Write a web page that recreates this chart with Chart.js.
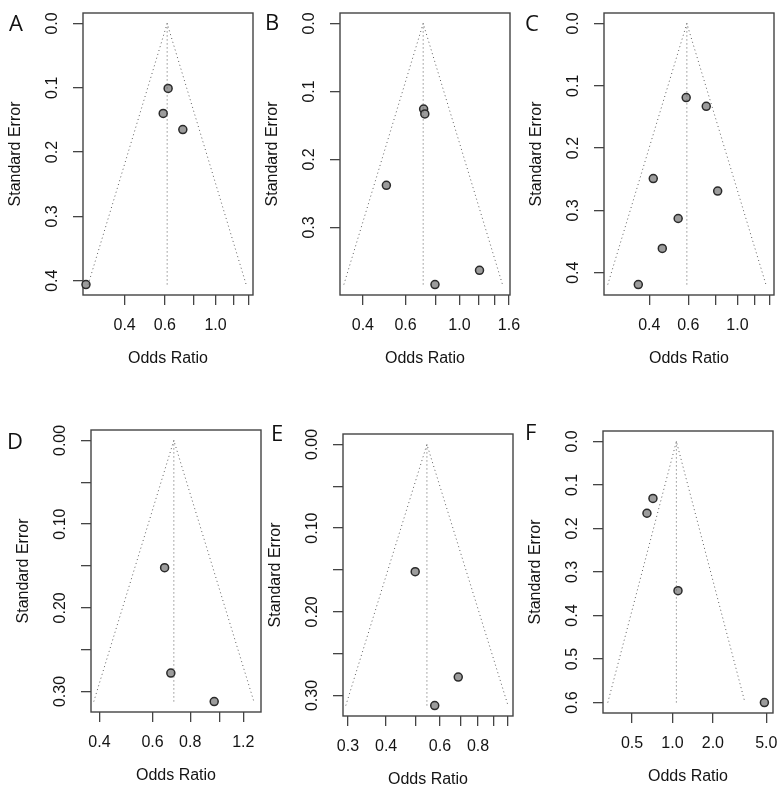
<!DOCTYPE html>
<html>
<head>
<meta charset="utf-8">
<script src="https://cdn.jsdelivr.net/npm/chart.js@4.4.0/dist/chart.umd.min.js"></script>
<style>
  body { margin: 0; background: #fff; }
  #wrap { position: relative; width: 784px; height: 796px; overflow: hidden; background: #fff; }
  .panel { position: absolute; }
  .letter { position: absolute; font-family: "Open Sans", sans-serif; font-size: 22px; line-height: 22px; color: #111; }
</style>
</head>
<body>
<div id="wrap"></div>
<script>
// study odds ratios and standard errors
const orA = [0.620, 0.590, 0.719, 0.271];
const seA = [0.101, 0.140, 0.165, 0.406];
const orB = [0.712, 0.720, 0.500, 1.21, 0.793];
const seB = [0.126, 0.133, 0.238, 0.363, 0.384];
const orC = [0.587, 0.723, 0.417, 0.814, 0.540, 0.458, 0.357];
const seC = [0.119, 0.133, 0.249, 0.269, 0.313, 0.361, 0.419];
const orD = [0.658, 0.690, 0.961];
const seD = [0.152, 0.278, 0.312];
const orE = [0.498, 0.689, 0.577];
const seE = [0.152, 0.278, 0.312];
const orF = [0.716, 0.646, 1.10, 4.84];
const seF = [0.131, 0.165, 0.343, 0.600];

// pooled estimate (funnel apex) per panel
const pooledOR = [0.614, 0.709, 0.591, 0.706, 0.544, 1.07];
const panelLetters = ['A', 'B', 'C', 'D', 'E', 'F'];

// x axis ranges (odds ratio) and ticks
const xRangeA = [0.263, 1.458];
const xRangeB = [0.322, 1.616];
const xRangeC = [0.250, 1.461];
const xRangeD = [0.375, 1.374];
const xRangeE = [0.289, 1.041];
const xRangeF = [0.304, 5.61];
const xTicksA = [0.4, 0.6, 0.8, 1.0, 1.2, 1.4];
const xLabelsA = ['0.4', '0.6', '1.0'];
const xTicksB = [0.4, 0.6, 0.8, 1.0, 1.2, 1.4, 1.6];
const xLabelsB = ['0.4', '0.6', '1.0', '1.6'];
const xTicksC = [0.4, 0.6, 0.8, 1.0, 1.2, 1.4];
const xLabelsC = ['0.4', '0.6', '1.0'];
const xTicksD = [0.4, 0.6, 0.8, 1.0, 1.2];
const xLabelsD = ['0.4', '0.6', '0.8', '1.2'];
const xTicksE = [0.3, 0.4, 0.5, 0.6, 0.7, 0.8, 0.9, 1.0];
const xLabelsE = ['0.3', '0.4', '0.6', '0.8'];
const xTicksF = [0.5, 1.0, 2.0, 5.0];
const xLabelsF = ['0.5', '1.0', '2.0', '5.0'];

// y axis ticks (standard error)
const yTicksA = [0, 0.1, 0.2, 0.3, 0.4];
const yLabelsA = ['0.0', '0.1', '0.2', '0.3', '0.4'];
const yTicksB = [0, 0.1, 0.2, 0.3];
const yLabelsB = ['0.0', '0.1', '0.2', '0.3'];
const yTicksC = [0, 0.1, 0.2, 0.3, 0.4];
const yLabelsC = ['0.0', '0.1', '0.2', '0.3', '0.4'];
const yTicksD = [0, 0.05, 0.10, 0.15, 0.20, 0.25, 0.30];
const yLabelsD = ['0.00', '0.10', '0.20', '0.30'];
const yTicksE = [0, 0.05, 0.10, 0.15, 0.20, 0.25, 0.30];
const yLabelsE = ['0.00', '0.10', '0.20', '0.30'];
const yTicksF = [0, 0.1, 0.2, 0.3, 0.4, 0.5, 0.6];
const yLabelsF = ['0.0', '0.1', '0.2', '0.3', '0.4', '0.5', '0.6'];

const panels = [
  { or: orA, se: seA, xRange: xRangeA, xTicks: xTicksA, xLabels: xLabelsA, yTicks: yTicksA, yLabels: yLabelsA },
  { or: orB, se: seB, xRange: xRangeB, xTicks: xTicksB, xLabels: xLabelsB, yTicks: yTicksB, yLabels: yLabelsB },
  { or: orC, se: seC, xRange: xRangeC, xTicks: xTicksC, xLabels: xLabelsC, yTicks: yTicksC, yLabels: yLabelsC },
  { or: orD, se: seD, xRange: xRangeD, xTicks: xTicksD, xLabels: xLabelsD, yTicks: yTicksD, yLabels: yLabelsD },
  { or: orE, se: seE, xRange: xRangeE, xTicks: xTicksE, xLabels: xLabelsE, yTicks: yTicksE, yLabels: yLabelsE },
  { or: orF, se: seF, xRange: xRangeF, xTicks: xTicksF, xLabels: xLabelsF, yTicks: yTicksF, yLabels: yLabelsF }
];

// page layout: top-left corner of each plot box, and of each panel letter
const boxPos = [[83, 13], [340, 13], [604, 13], [91, 430], [343, 434], [603, 431]];
const letterPos = [[9, 11], [265, 10], [525, 11], [7, 429], [271, 421], [525, 420]];
const YW = 82, PT = 20, PR = 26, XH = 85, BW = 170, BH = 282;

const FONT = '"Liberation Sans", Arial, Helvetica, sans-serif';
Chart.defaults.font.family = FONT;
Chart.defaults.font.size = 16;
Chart.defaults.color = '#141414';

const meas = document.createElement('canvas').getContext('2d');
meas.font = '16px ' + FONT;

// full box around the plotting region, like R's box()
const framePlugin = {
  id: 'frame',
  beforeDatasetsDraw(chart) {
    const { ctx, chartArea: a } = chart;
    ctx.save();
    ctx.strokeStyle = '#444';
    ctx.lineWidth = 1.4;
    ctx.strokeRect(a.left, a.top, a.right - a.left, a.bottom - a.top);
    ctx.restore();
  }
};

const wrap = document.getElementById('wrap');

panels.forEach((p, i) => {
  const [bx, by] = boxPos[i];
  const div = document.createElement('div');
  div.className = 'panel';
  div.style.left = (bx - YW) + 'px';
  div.style.top = (by - PT) + 'px';
  const cv = document.createElement('canvas');
  cv.width = YW + BW + PR;
  cv.height = PT + BH + XH;
  div.appendChild(cv);
  wrap.appendChild(div);

  const lt = document.createElement('div');
  lt.className = 'letter';
  lt.style.left = letterPos[i][0] + 'px';
  lt.style.top = letterPos[i][1] + 'px';
  lt.textContent = panelLetters[i];
  wrap.appendChild(lt);

  const pooled = pooledOR[i];
  const seMax = Math.max(...p.se);
  const lo = pooled * Math.exp(-1.96 * seMax);
  const hi = pooled * Math.exp(1.96 * seMax);
  const yDec = p.yLabels[0].split('.')[1].length;
  const widest = Math.max(...p.yLabels.map(s => meas.measureText(s).width));

  const dotted = {
    borderColor: '#5e5e5e', borderWidth: 1, borderDash: [1, 3],
    pointRadius: 0, showLine: true, fill: false
  };

  new Chart(cv, {
    type: 'scatter',
    data: {
      datasets: [
        { ...dotted, data: [{ x: lo, y: seMax }, { x: pooled, y: 0 }, { x: hi, y: seMax }] },
        { ...dotted, data: [{ x: pooled, y: 0 }, { x: pooled, y: seMax }] },
        {
          data: p.or.map((v, k) => ({ x: v, y: p.se[k] })),
          pointRadius: 4, backgroundColor: '#9c9c9c', borderColor: '#2a2a2a',
          borderWidth: 1.5, clip: false
        }
      ]
    },
    options: {
      responsive: false,
      animation: false,
      layout: { padding: { left: 0, top: PT, right: PR, bottom: 0 } },
      plugins: { legend: { display: false }, tooltip: { enabled: false } },
      scales: {
        x: {
          type: 'logarithmic',
          min: p.xRange[0], max: p.xRange[1], bounds: 'data',
          afterBuildTicks: s => { s.ticks = p.xTicks.map(v => ({ value: v })); },
          afterFit: s => { s.height = XH; },
          ticks: {
            padding: 11, maxRotation: 0, autoSkip: false, major: { enabled: false },
            callback: v => { const t = Number(v).toFixed(1); return p.xLabels.includes(t) ? t : ''; }
          },
          grid: { drawOnChartArea: false, tickLength: 10, color: '#444', lineWidth: 1.3 },
          border: { display: false },
          title: { display: true, text: 'Odds Ratio', padding: { top: 0, bottom: 12 } }
        },
        y: {
          type: 'linear', reverse: true,
          min: -0.04 * seMax, max: 1.04 * seMax,
          afterBuildTicks: s => { s.ticks = p.yTicks.map(v => ({ value: v })); },
          afterFit: s => { s.width = YW; },
          ticks: {
            minRotation: 90, maxRotation: 90, crossAlign: 'center',
            padding: 20 - widest / 2, autoSkip: false,
            callback: v => { const t = Number(v).toFixed(yDec); return p.yLabels.includes(t) ? t : ''; }
          },
          grid: { drawOnChartArea: false, tickLength: 10, color: '#444', lineWidth: 1.3 },
          border: { display: false },
          title: { display: true, text: 'Standard Error', padding: { top: YW - 67.5 - 9.6, bottom: 0 } }
        }
      }
    },
    plugins: [framePlugin]
  });
});
</script>
</body>
</html>
